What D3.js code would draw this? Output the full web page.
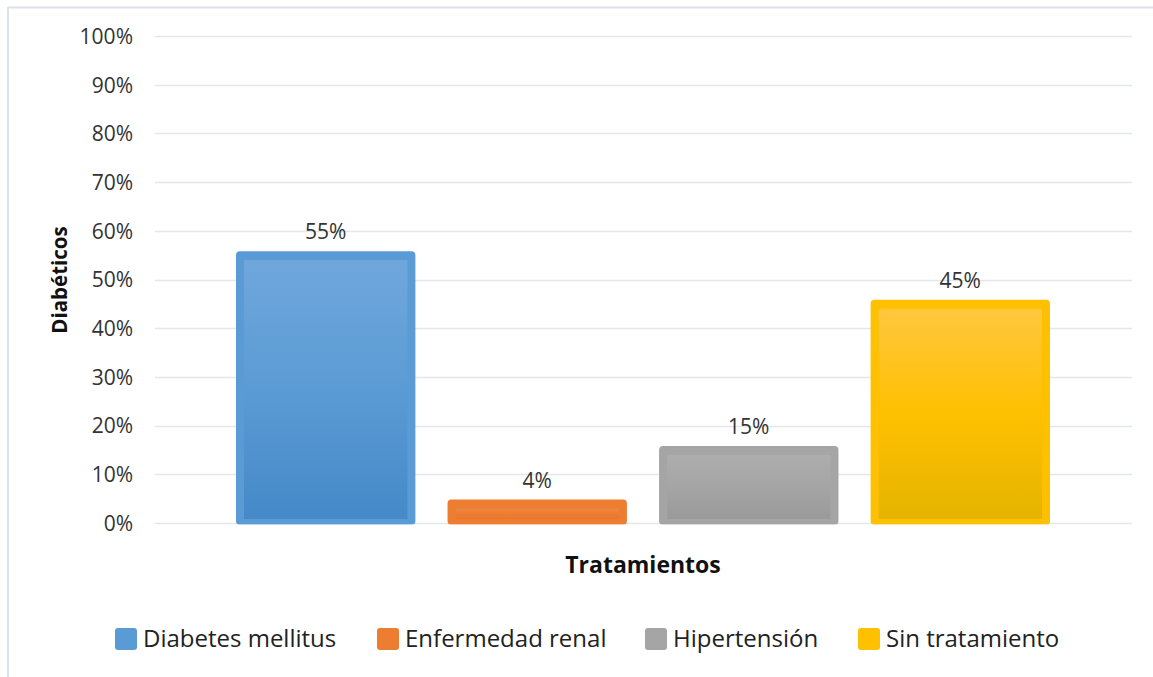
<!DOCTYPE html>
<html>
<head>
<meta charset="utf-8">
<script src="https://cdn.jsdelivr.net/npm/d3@7"></script>
<style>
  body { margin: 0; background: #fff; }
  svg text { font-family: "Open Sans", "Noto Sans", sans-serif; }
</style>
</head>
<body>
<div id="chart"></div>
<script>
// data
var series = ["Diabetes mellitus", "Enfermedad renal", "Hipertensión", "Sin tratamiento"];
var values = [0.55, 0.04, 0.15, 0.45];
var labels = ["55%", "4%", "15%", "45%"];
var colors = ["#5B9BD5", "#ED7D31", "#A5A5A5", "#FFC000"];
var tops = ["#6FA7DC", "#F0863F", "#ADADAD", "#FFC73D"];
var bottoms = ["#4589C8", "#E7772C", "#9A9A9A", "#E5B400"];
var yTicks = d3.range(0, 1.01, 0.1);

var width = 1153, height = 677;

var svg = d3.select("#chart")
  .append("svg")
    .attr("width", width)
    .attr("height", height);

// chart frame (only top and left edges visible)
svg.append("line").attr("x1", 8).attr("x2", width).attr("y1", 7.5).attr("y2", 7.5)
  .attr("stroke", "#DDE2EA").attr("stroke-width", 2);
svg.append("line").attr("x1", 8).attr("x2", 8).attr("y1", 7).attr("y2", height)
  .attr("stroke", "#DDE2EA").attr("stroke-width", 2);

var plotLeft = 155, plotRight = 1132;
var y = d3.scaleLinear().domain([0, 1]).range([523, 36]);

// bars take the middle of the plot area (one category, 4 series)
var x = d3.scaleBand()
  .domain(series)
  .range([236, 1050])
  .paddingInner(0.152);

// gridlines
svg.append("g")
  .selectAll("line")
  .data(yTicks)
  .enter()
  .append("line")
    .attr("x1", plotLeft)
    .attr("x2", plotRight)
    .attr("y1", function(d) { return Math.round(y(d)) + 0.5; })
    .attr("y2", function(d) { return Math.round(y(d)) + 0.5; })
    .attr("stroke", "#E3E6EC")
    .attr("stroke-width", 1.3);

// y axis labels
var yAxis = d3.axisLeft(y)
  .tickValues(yTicks)
  .tickFormat(d3.format(".0%"))
  .tickSize(0)
  .tickPadding(0);

svg.append("g")
  .attr("transform", "translate(133,0)")
  .call(yAxis)
  .call(function(g) { g.select(".domain").remove(); })
  .selectAll("text")
    .attr("font-family", "'Open Sans', sans-serif")
    .attr("font-size", 21)
    .attr("fill", "#333")
    .attr("dy", "0.35em");

// gradients
var defs = svg.append("defs");
series.forEach(function(s, i) {
  var g = defs.append("linearGradient")
    .attr("id", "grad" + i)
    .attr("x1", 0).attr("y1", 0).attr("x2", 0).attr("y2", 1);
  g.append("stop").attr("offset", "0%").attr("stop-color", tops[i]);
  g.append("stop").attr("offset", "50%").attr("stop-color", colors[i]);
  g.append("stop").attr("offset", "100%").attr("stop-color", bottoms[i]);
});

// bars: outer rounded shape + gradient inner panel
var bars = svg.append("g")
  .selectAll("g")
  .data(series)
  .enter()
  .append("g");

bars.append("rect")
  .attr("x", function(d) { return x(d); })
  .attr("y", function(d, i) { return y(values[i]) - 4; })
  .attr("width", x.bandwidth())
  .attr("height", function(d, i) { return y(0) - y(values[i]) + 6; })
  .attr("rx", 4)
  .attr("fill", function(d, i) { return colors[i]; });

bars.append("rect")
  .attr("x", function(d) { return x(d) + 8; })
  .attr("y", function(d, i) { return y(values[i]) + 5; })
  .attr("width", x.bandwidth() - 16)
  .attr("height", function(d, i) { return Math.max(0, y(0) - y(values[i]) - 9); })
  .attr("fill", function(d, i) { return "url(#grad" + i + ")"; });

bars.append("line")
  .attr("x1", function(d) { return x(d); })
  .attr("x2", function(d) { return x(d) + x.bandwidth(); })
  .attr("y1", y(0) + 1.5)
  .attr("y2", y(0) + 1.5)
  .attr("stroke", "#fff")
  .attr("stroke-opacity", 0.6)
  .attr("stroke-width", 1);

// value labels
bars.append("text")
  .attr("x", function(d) { return x(d) + x.bandwidth() / 2; })
  .attr("y", function(d, i) { return y(values[i]) - 16; })
  .attr("text-anchor", "middle")
  .attr("font-size", 21)
  .attr("fill", "#333")
  .text(function(d, i) { return labels[i]; });

// axis titles
svg.append("text")
  .attr("x", 643)
  .attr("y", 573)
  .attr("text-anchor", "middle")
  .attr("font-size", 23)
  .attr("font-weight", "bold")
  .attr("fill", "#111")
  .text("Tratamientos");

svg.append("text")
  .attr("transform", "translate(67,280) rotate(-90)")
  .attr("text-anchor", "middle")
  .attr("font-size", 20.5)
  .attr("font-weight", "bold")
  .attr("fill", "#111")
  .text("Diabéticos");

// legend
var legendX = [115, 377, 645, 858];
var legend = svg.append("g")
  .selectAll("g")
  .data(series)
  .enter()
  .append("g")
  .attr("transform", function(d, i) { return "translate(" + legendX[i] + ",628)"; });

legend.append("rect")
  .attr("width", 22)
  .attr("height", 22)
  .attr("rx", 3)
  .attr("fill", function(d, i) { return colors[i]; });

legend.append("text")
  .attr("x", 28)
  .attr("y", 11)
  .attr("dy", "0.35em")
  .attr("font-size", 24)
  .attr("fill", "#222")
  .text(function(d) { return d; });
</script>
</body>
</html>
